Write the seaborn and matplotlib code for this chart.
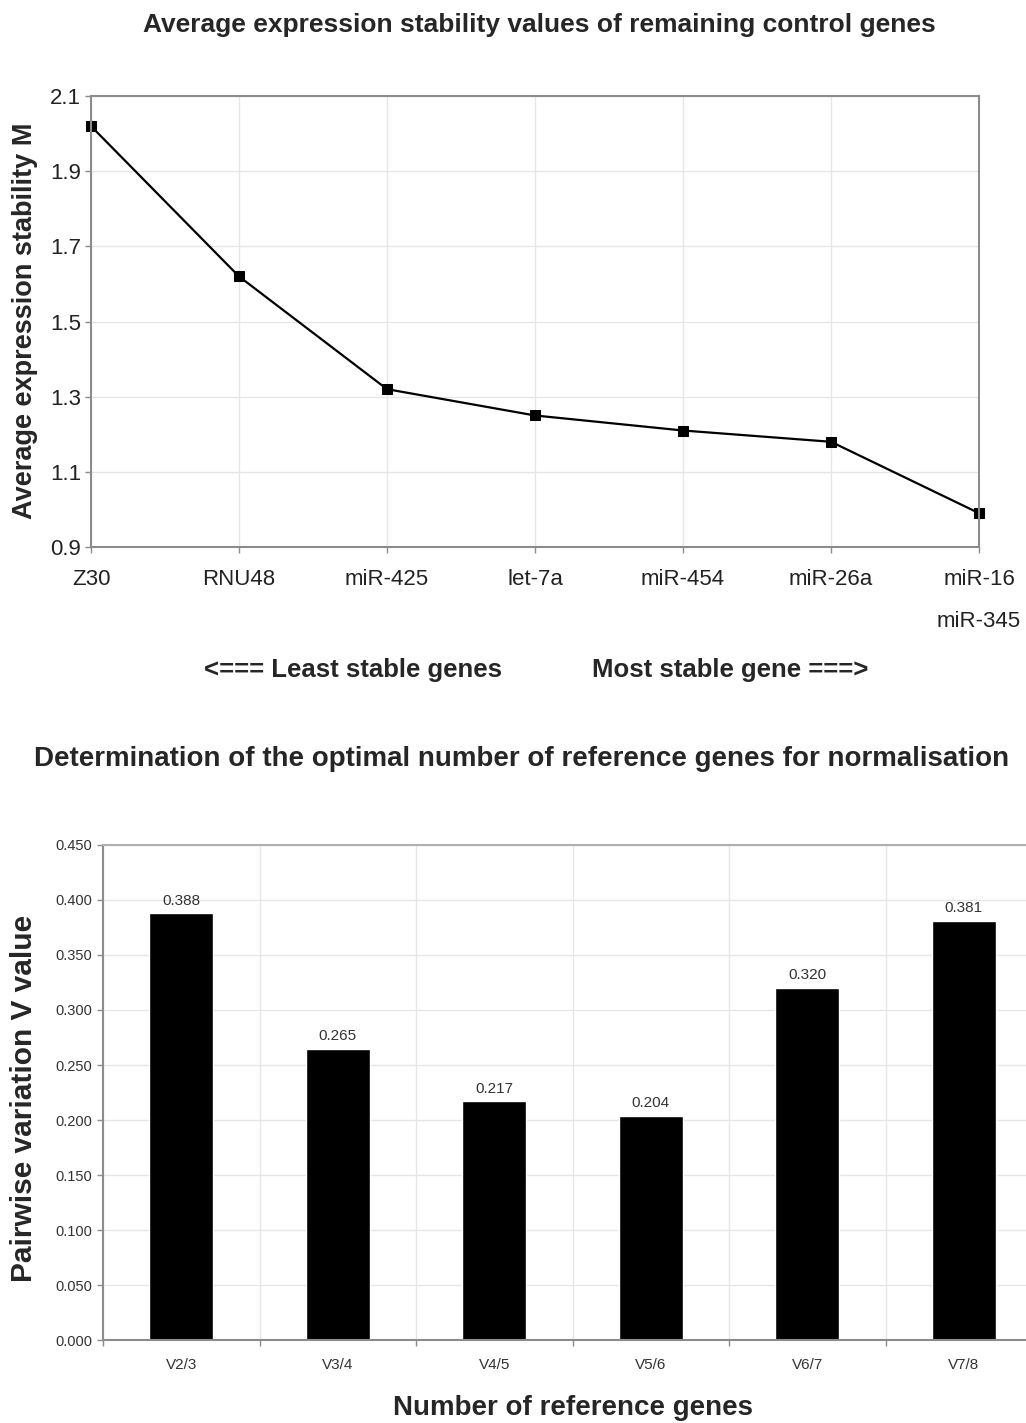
import matplotlib
matplotlib.use('Agg')
import matplotlib.pyplot as plt
from matplotlib.ticker import FixedLocator, FormatStrFormatter
import seaborn as sns
import pandas as pd

# geNorm stability values (top panel)
genes = ['Z30', 'RNU48', 'miR-425', 'let-7a', 'miR-454', 'miR-26a', 'miR-16\nmiR-345']
stability_m = [2.02, 1.62, 1.32, 1.25, 1.21, 1.18, 0.99]
m_ticks = [0.9, 1.1, 1.3, 1.5, 1.7, 1.9, 2.1]

# pairwise variation (bottom panel)
pairs = ['V2/3', 'V3/4', 'V4/5', 'V5/6', 'V6/7', 'V7/8']
pairwise_v = [0.388, 0.265, 0.217, 0.204, 0.320, 0.381]
v_ticks = [0.0, 0.05, 0.10, 0.15, 0.20, 0.25, 0.30, 0.35, 0.40, 0.45]

sns.set_style('white')
plt.rcParams['font.family'] = ['Liberation Sans', 'DejaVu Sans']

grid_col = '#e6e6e6'
frame_col = '#8c8c8c'

fig = plt.figure(figsize=(10.26, 14.23), dpi=100)

# ---- top panel: average expression stability M
ax1 = fig.add_axes([0.0887, 0.6156, 0.8655, 0.3169])
df1 = pd.DataFrame({'gene': genes, 'M': stability_m})
sns.lineplot(data=df1, x='gene', y='M', ax=ax1, sort=False, color='black',
             linewidth=1.6, marker='s', markersize=7.5, markeredgecolor='black')
for ln in ax1.lines:
    ln.set_clip_on(False)
ax1.set_xlim(0, len(genes) - 1)
ax1.set_ylim(0.9, 2.1)
ax1.set_yticks(m_ticks)
ax1.yaxis.set_major_formatter(FormatStrFormatter('%.1f'))
ax1.grid(True, color=grid_col, linewidth=1)
for sp in ax1.spines.values():
    sp.set_color(frame_col)
    sp.set_linewidth(1.5)
ax1.tick_params(axis='y', which='major', length=4, width=1, color=frame_col,
                pad=3, labelsize=16, labelcolor='#222222', left=True)
ax1.tick_params(axis='x', which='major', length=4, width=1, color=frame_col,
                pad=12, labelsize=16, labelcolor='#222222', bottom=True)
for lbl in ax1.get_xticklabels():
    lbl.set_linespacing(2.3)
    lbl.set_verticalalignment('top')
ax1.set_xlabel('')
ax1.set_ylabel('Average expression stability M', fontsize=19.5, fontweight='bold')
ax1.yaxis.label.set_verticalalignment('center')
ax1.yaxis.set_label_coords(-0.074, 0.501)

fig.text(0.526, 0.9824, 'Average expression stability values of remaining control genes',
         ha='center', va='center', fontsize=19, fontweight='bold')
fig.text(0.344, 0.529, '<=== Least stable genes', ha='center', va='center',
         fontsize=18.5, fontweight='bold')
fig.text(0.712, 0.529, 'Most stable gene ===>', ha='center', va='center',
         fontsize=18.5, fontweight='bold')

# ---- bottom panel: pairwise variation V
ax2 = fig.add_axes([0.1004, 0.0583, 0.9152, 0.3479])
sns.barplot(x=pairs, y=pairwise_v, color='black', width=0.41, saturation=1,
            ax=ax2)
ax2.bar_label(ax2.containers[0], fmt='%.3f', padding=4, fontsize=11,
              color='#333333')
ax2.set_xlim(-0.5, len(pairs) - 0.5)
ax2.set_ylim(0, 0.45)
ax2.set_yticks(v_ticks)
ax2.yaxis.set_major_formatter(FormatStrFormatter('%.3f'))
ax2.xaxis.set_minor_locator(FixedLocator([i - 0.5 for i in range(len(pairs) + 1)]))
ax2.grid(True, axis='y', which='major', color=grid_col, linewidth=1)
ax2.grid(True, axis='x', which='minor', color=grid_col, linewidth=1)
ax2.set_axisbelow(True)
for sp in ax2.spines.values():
    sp.set_color(frame_col)
    sp.set_linewidth(1.5)
ax2.spines['right'].set_visible(False)
ax2.spines['top'].set_color('#b0b0b0')
ax2.tick_params(axis='y', which='major', length=4, width=1, color=frame_col,
                pad=4, labelsize=10.5, labelcolor='#333333', left=True)
ax2.tick_params(axis='x', which='major', length=0, pad=13, labelsize=11,
                labelcolor='#333333')
ax2.tick_params(axis='x', which='minor', length=4, width=1, color=frame_col,
                bottom=True)
ax2.set_xlabel('Number of reference genes', fontsize=20, fontweight='bold')
ax2.xaxis.label.set_verticalalignment('center')
ax2.xaxis.set_label_coords(0.5, -0.137)
ax2.set_ylabel('Pairwise variation V value', fontsize=21.5, fontweight='bold')
ax2.yaxis.label.set_verticalalignment('center')
ax2.yaxis.set_label_coords(-0.084, 0.489)

fig.text(0.508, 0.4666,
         'Determination of the optimal number of reference genes for normalisation',
         ha='center', va='center', fontsize=20, fontweight='bold')

fig.savefig('out.png', dpi=100)
